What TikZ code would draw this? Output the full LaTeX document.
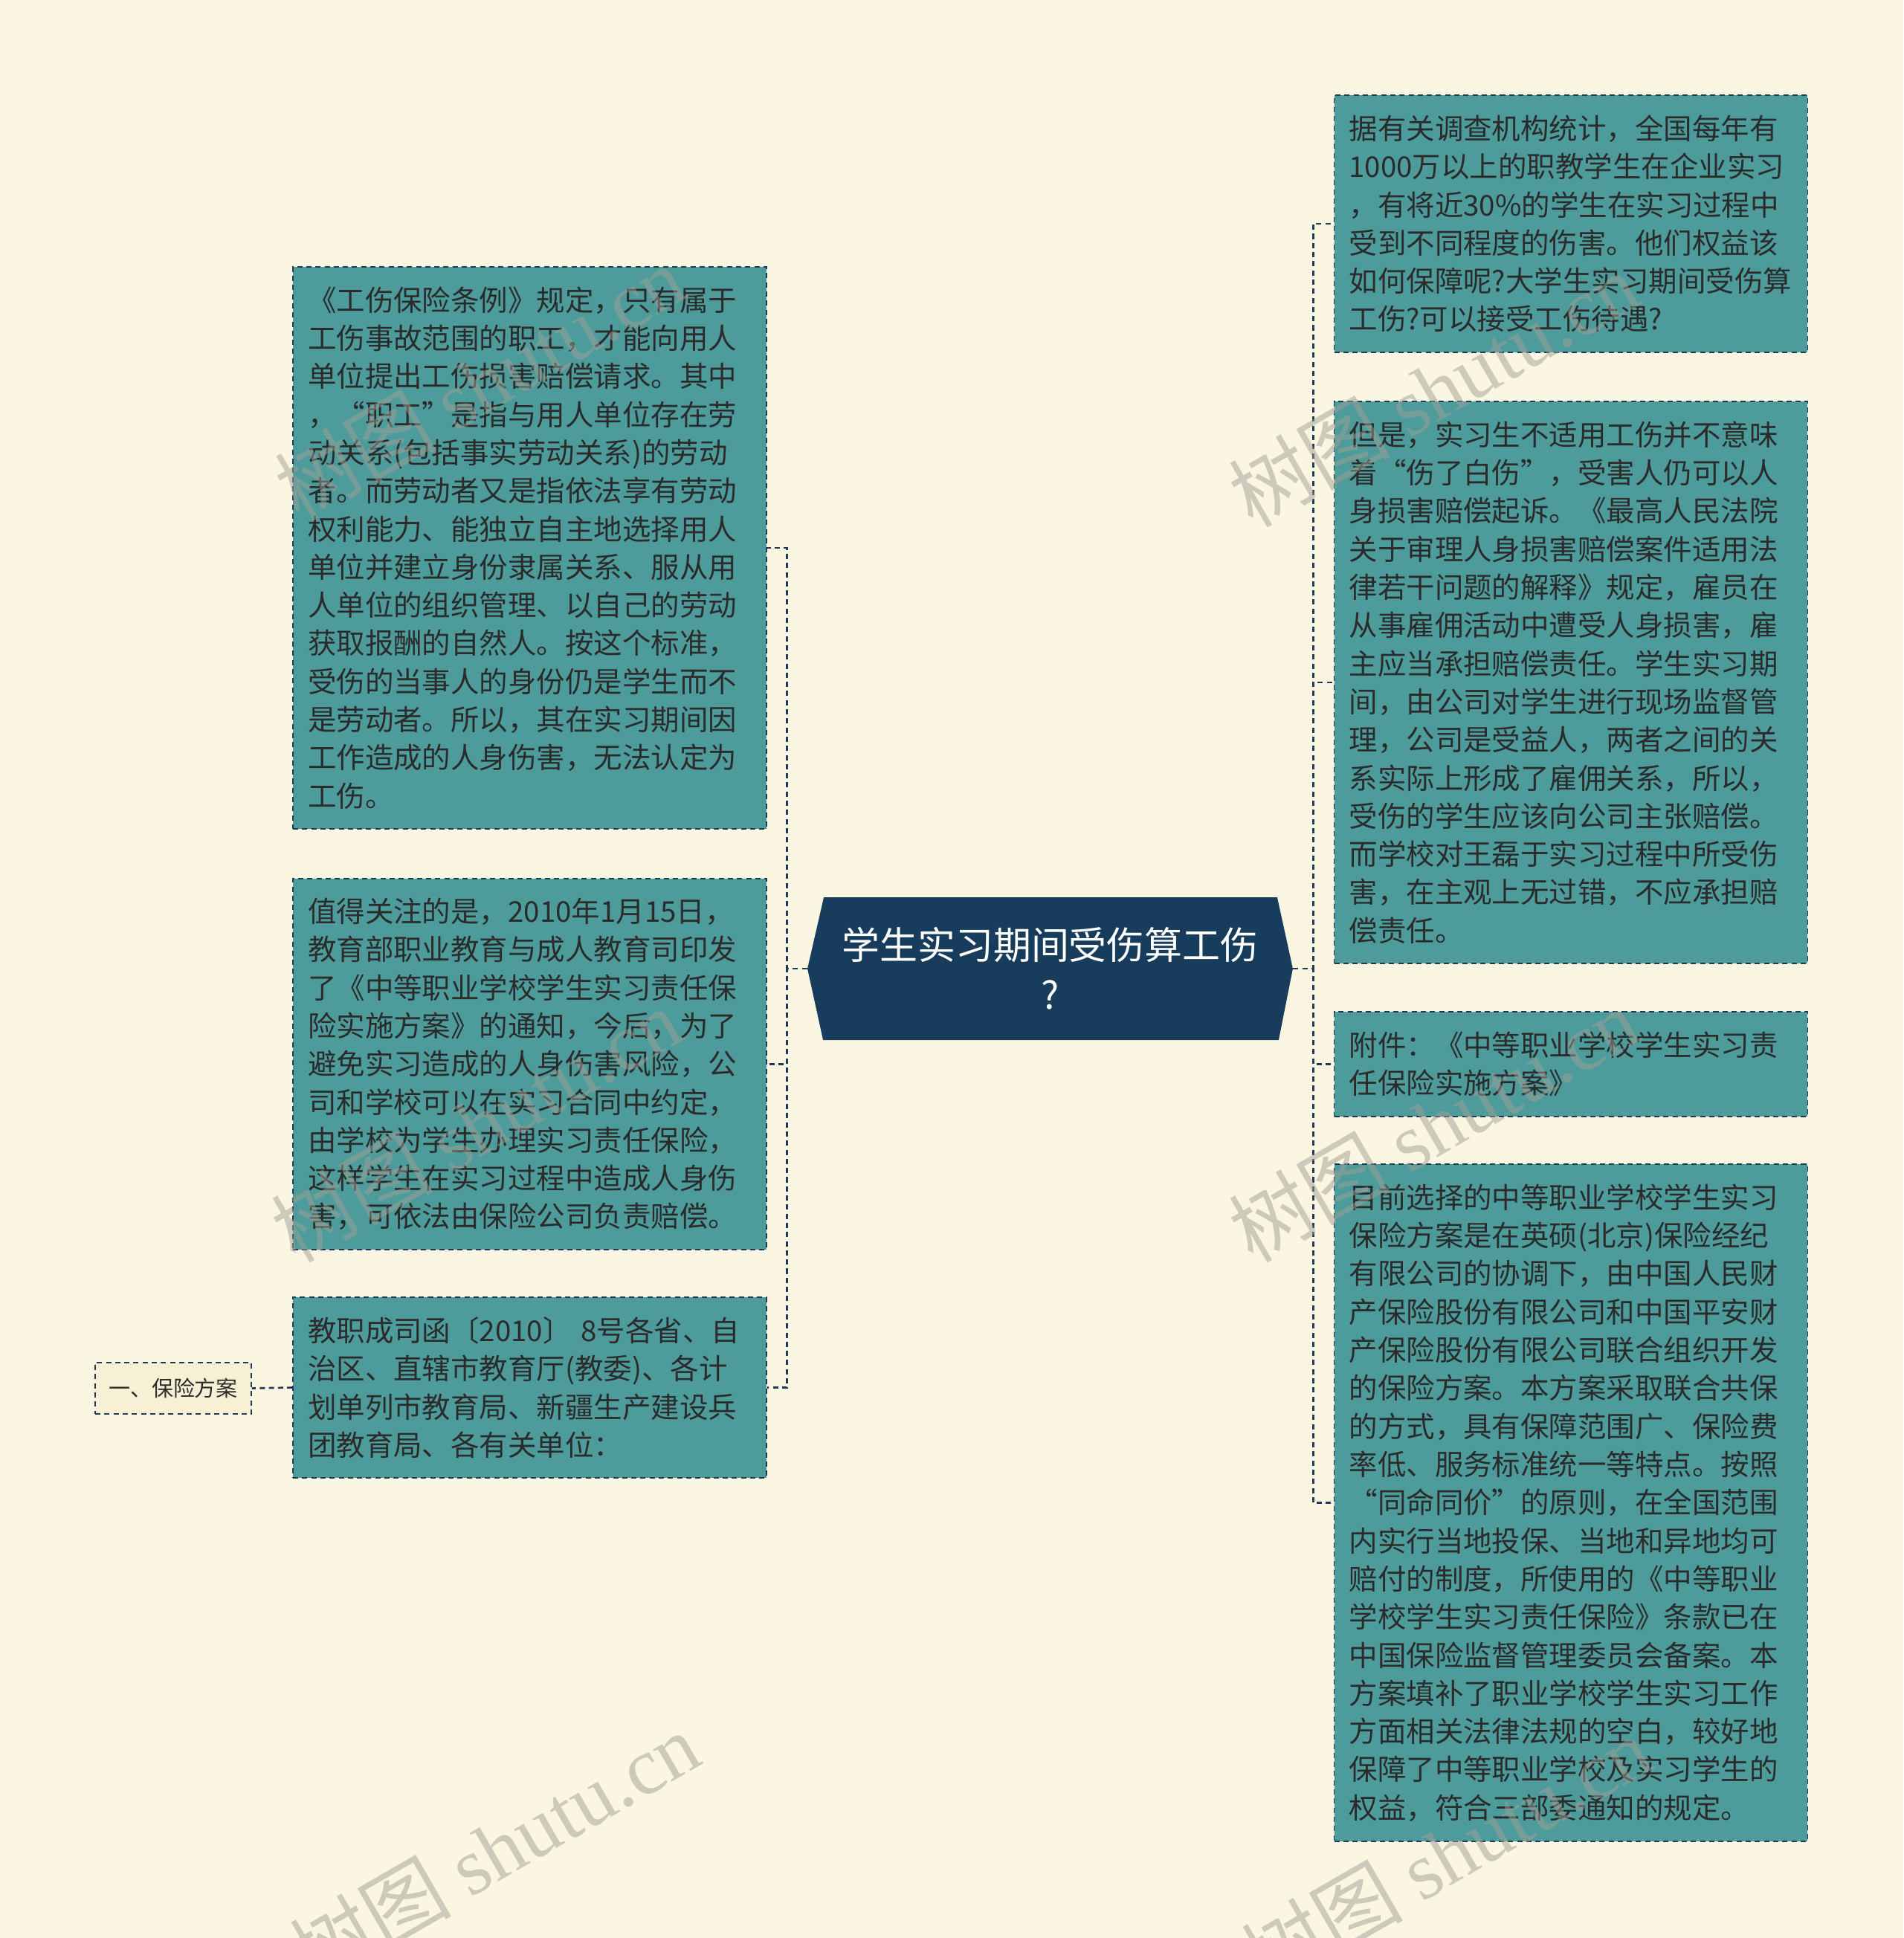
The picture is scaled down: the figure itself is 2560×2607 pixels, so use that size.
\documentclass[tikz,border=0pt]{standalone}
\usepackage{fontspec}
\setmainfont{Noto Sans CJK SC}
\newfontfamily\wmfont{Liberation Serif}

\definecolor{paper}{HTML}{FBF6E2}
\definecolor{leafteal}{HTML}{4D9B9B}
\definecolor{navy}{HTML}{1E3A55}
\definecolor{rootfill}{HTML}{173C5C}
\definecolor{ink}{HTML}{2B2B2B}
\definecolor{tagfill}{HTML}{F7F0D5}
\definecolor{wmgray}{HTML}{A0A096}

\begin{document}
\begin{tikzpicture}[x=0.02cm, y=-0.02cm,
		leaf/.style={draw=navy, fill=leafteal, dash pattern=on 4pt off 3pt, line width=1pt,
			text=ink, font=\fontsize{21.9}{29.2}\selectfont, align=left,
			text width=11.94cm, inner xsep=0.4cm, inner ysep=0pt},
		topic/.style={draw=navy, fill=tagfill, dash pattern=on 4pt off 3pt, line width=1pt,
			text=ink, font=\fontsize{16.5}{20}\selectfont, inner sep=0pt,
			minimum width=4.2cm, minimum height=1.38cm},
		root/.style={minimum width=13.06cm, minimum height=3.84cm, inner sep=0pt,
			text=white, font=\fontsize{29}{38}\selectfont, align=center,
			path picture={
				\fill[rootfill] ([xshift=0.44cm]path picture bounding box.north west) --
					([xshift=-0.42cm]path picture bounding box.north east) --
					(path picture bounding box.east) --
					([xshift=-0.38cm]path picture bounding box.south east) --
					([xshift=0.42cm]path picture bounding box.south west) --
					(path picture bounding box.west) -- cycle;
			}},
		link/.style={draw=navy, dash pattern=on 4pt off 3pt, line width=1.5pt},
		wmark/.style={rotate=30, text=wmgray, opacity=0.5, font=\fontsize{62}{62}\selectfont}
	]

		\pgfmathsetmacro{\spine}{27}

		% paper
		\useasboundingbox (0,0) rectangle (2560,2607);
		\fill[paper] (0,0) rectangle (2560,2607);

		% central topic
		\node[root] (root) at (1412.5,1303) {学生实习期间受伤算工伤\\?};

		% left branches
		\node[leaf, minimum height=15.12cm] (l1) at (712.5,737) {《工伤保险条例》规定，只有属于\\工伤事故范围的职工，才能向用人\\单位提出工伤损害赔偿请求。其中\\，“职工”是指与用人单位存在劳\\动关系(包括事实劳动关系)的劳动\\者。而劳动者又是指依法享有劳动\\权利能力、能独立自主地选择用人\\单位并建立身份隶属关系、服从用\\人单位的组织管理、以自己的劳动\\获取报酬的自然人。按这个标准，\\受伤的当事人的身份仍是学生而不\\是劳动者。所以，其在实习期间因\\工作造成的人身伤害，无法认定为\\工伤。};
		\node[leaf, minimum height=9.98cm] (l2) at (712.5,1431.5) {值得关注的是，2010年1月15日，\\教育部职业教育与成人教育司印发\\了《中等职业学校学生实习责任保\\险实施方案》的通知，今后，为了\\避免实习造成的人身伤害风险，公\\司和学校可以在实习合同中约定，\\由学校为学生办理实习责任保险，\\这样学生在实习过程中造成人身伤\\害，可依法由保险公司负责赔偿。};
		\node[leaf, minimum height=4.86cm] (l3) at (712.5,1866.5) {教职成司函〔2010〕 8号各省、自\\治区、直辖市教育厅(教委)、各计\\划单列市教育局、新疆生产建设兵\\团教育局、各有关单位：};
		\node[topic] (tag) at (233,1867.5) {一、保险方案};

		% right branches
		\node[leaf, minimum height=6.92cm] (r1) at (2113,301) {据有关调查机构统计，全国每年有\\1000万以上的职教学生在企业实习\\，有将近30\%的学生在实习过程中\\受到不同程度的伤害。他们权益该\\如何保障呢?大学生实习期间受伤算\\工伤?可以接受工伤待遇?};
		\node[leaf, minimum height=15.12cm] (r2) at (2113,918) {但是，实习生不适用工伤并不意味\\着“伤了白伤”，受害人仍可以人\\身损害赔偿起诉。《最高人民法院\\关于审理人身损害赔偿案件适用法\\律若干问题的解释》规定，雇员在\\从事雇佣活动中遭受人身损害，雇\\主应当承担赔偿责任。学生实习期\\间，由公司对学生进行现场监督管\\理，公司是受益人，两者之间的关\\系实际上形成了雇佣关系，所以，\\受伤的学生应该向公司主张赔偿。\\而学校对王磊于实习过程中所受伤\\害，在主观上无过错，不应承担赔\\偿责任。};
		\node[leaf, minimum height=2.82cm] (r3) at (2113,1431.5) {附件：《中等职业学校学生实习责\\任保险实施方案》};
		\node[leaf, minimum height=18.22cm] (r4) at (2113,2021.5) {目前选择的中等职业学校学生实习\\保险方案是在英硕(北京)保险经纪\\有限公司的协调下，由中国人民财\\产保险股份有限公司和中国平安财\\产保险股份有限公司联合组织开发\\的保险方案。本方案采取联合共保\\的方式，具有保障范围广、保险费\\率低、服务标准统一等特点。按照\\“同命同价”的原则，在全国范围\\内实行当地投保、当地和异地均可\\赔付的制度，所使用的《中等职业\\学校学生实习责任保险》条款已在\\中国保险监督管理委员会备案。本\\方案填补了职业学校学生实习工作\\方面相关法律法规的空白，较好地\\保障了中等职业学校及实习学生的\\权益，符合三部委通知的规定。};

		% draw connectors
		\foreach \kid in {l1,l2,l3}
			\draw[link] (root.west) -- ++(-\spine,0) |- (\kid.east);
		\foreach \kid in {r1,r2,r3,r4}
			\draw[link] (root.east) -- ++(\spine,0) |- (\kid.west);
		\draw[link] (l3.west) -- (tag.east);

		% watermarks
		\foreach \wx/\wy [count=\i] in {645/515, 640/1513, 665/2487, 1928/524, 1928/1513, 1945/2493}
			\node[wmark] (wm\i) at (\wx,\wy) {树图 {\wmfont shutu.cn}};

	\end{tikzpicture}
\end{document}
